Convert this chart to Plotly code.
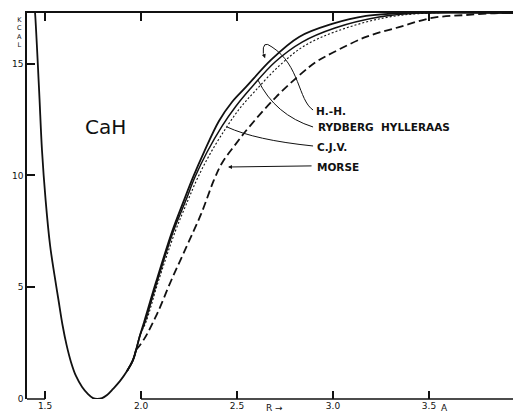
import plotly.graph_objects as go

# ---- data (R in Angstrom, energy in kcal) ----
well_x = [1.444, 1.448, 1.469, 1.484, 1.503, 1.526, 1.549, 1.570, 1.591, 1.612, 1.635, 1.661, 1.693, 1.724, 1.750, 1.771,
          1.797, 1.823, 1.854, 1.891, 1.927, 1.958, 1.974]
well_y = [17.60, 17.27, 13.83, 11.14, 8.90, 6.89, 5.55, 4.43, 3.31, 2.42, 1.66, 1.03, 0.54, 0.22, 0.04, 0.00,
          0.04, 0.18, 0.45, 0.81, 1.25, 1.74, 2.19]

hh_x = [1.927, 1.958, 1.974, 1.995, 2.016, 2.078, 2.161, 2.224, 2.271, 2.328, 2.406, 2.474, 2.547, 2.677, 2.823, 2.995, 3.172, 3.396, 3.94]
hh_y = [1.25, 1.74, 2.19, 2.86, 3.45, 5.23, 7.47, 8.90, 9.93, 11.05, 12.44, 13.29, 13.96, 15.17, 16.20, 16.78, 17.14, 17.27, 17.27]

rh_x = [1.927, 1.958, 1.974, 1.995, 2.021, 2.083, 2.167, 2.234, 2.281, 2.344, 2.422, 2.495, 2.568, 2.698, 2.839, 3.010, 3.240, 3.448, 3.94]
rh_y = [1.25, 1.74, 2.19, 2.86, 3.45, 5.23, 7.47, 8.90, 9.93, 11.05, 12.21, 13.11, 13.87, 15.08, 15.97, 16.60, 17.09, 17.27, 17.27]

cjv_x = [1.927, 1.958, 1.974, 1.995, 2.026, 2.089, 2.177, 2.245, 2.297, 2.365, 2.443, 2.516, 2.594, 2.719, 2.849, 3.021, 3.266, 3.500, 3.94]
cjv_y = [1.25, 1.74, 2.19, 2.86, 3.45, 5.23, 7.47, 8.90, 9.93, 11.05, 12.13, 13.02, 13.78, 14.90, 15.79, 16.46, 17.05, 17.27, 17.27]

morse_x = [1.974, 2.016, 2.083, 2.156, 2.234, 2.313, 2.380, 2.422, 2.490, 2.563, 2.703, 2.839, 2.911, 2.995, 3.172, 3.344, 3.516, 3.693, 3.865, 3.94]
morse_y = [2.19, 2.68, 3.80, 5.28, 6.76, 8.28, 9.80, 10.56, 11.37, 12.17, 13.51, 14.59, 15.08, 15.48, 16.20, 16.64, 17.05, 17.18, 17.27, 17.27]

x_ticks = [1.5, 2.0, 2.5, 3.0, 3.5]
x_tick_text = ["1.5", "2.0", "2.5", "3.0", "3.5"]
y_ticks = [0, 5, 10, 15]
y_tick_text = ["0", "5", "10", "15"]

series_labels = ["H.-H.", "RYDBERG  HYLLERAAS", "C.J.V.", "MORSE"]
label_x = [2.901, 2.911, 2.906, 2.906]
label_y = [12.89, 12.17, 11.28, 10.38]

X_RANGE = [1.406, 3.9375]
Y_RANGE = [0, 17.27]

fig = go.Figure()
blk = "#111111"
sm = 1.0
fig.add_trace(go.Scatter(x=well_x, y=well_y, mode="lines", line=dict(color=blk, width=1.8, shape="spline", smoothing=sm)))
fig.add_trace(go.Scatter(x=hh_x, y=hh_y, mode="lines", line=dict(color=blk, width=1.8, shape="spline", smoothing=sm)))
fig.add_trace(go.Scatter(x=rh_x, y=rh_y, mode="lines", line=dict(color=blk, width=1.5, shape="spline", smoothing=sm)))
fig.add_trace(go.Scatter(x=cjv_x, y=cjv_y, mode="lines", line=dict(color=blk, width=1.1, dash="2px,2px", shape="spline", smoothing=sm)))
fig.add_trace(go.Scatter(x=morse_x, y=morse_y, mode="lines", line=dict(color=blk, width=1.8, dash="8px,4px", shape="spline", smoothing=sm)))
# invisible trace on the top axis so it renders ticks
fig.add_trace(go.Scatter(x=[X_RANGE[0]], y=[0], xaxis="x2", mode="markers", marker=dict(opacity=0), hoverinfo="skip"))

shapes = [
    # bottom axis (broken under the well)
    dict(type="line", xref="x", yref="paper", x0=X_RANGE[0], x1=1.5, y0=0, y1=0, line=dict(color=blk, width=1.5)),
    dict(type="line", xref="x", yref="paper", x0=2.0, x1=X_RANGE[1], y0=0, y1=0, line=dict(color=blk, width=1.5)),
    # leader lines
    dict(type="path", xref="x", yref="y", path="M 2.896,12.93 C 2.818,13.38 2.828,14.94 2.682,15.75 Q 2.630,16.10 2.637,15.45",
         line=dict(color=blk, width=1)),
    dict(type="path", xref="x", yref="y", path="M 2.609,14.27 Q 2.698,12.71 2.896,12.17", line=dict(color=blk, width=1)),
    dict(type="path", xref="x", yref="y", path="M 2.448,12.17 Q 2.594,11.59 2.896,11.32", line=dict(color=blk, width=1)),
]

lab_font = dict(family="DejaVu Sans", size=10.5, color=blk, weight="bold")
annotations = []
for t, lx, ly in zip(series_labels, label_x, label_y):
    annotations.append(dict(x=lx, y=ly, xref="x", yref="y", text=t, showarrow=False, xanchor="left", yanchor="middle",
                            font=lab_font))
# MORSE leader with arrowhead
annotations.append(dict(x=2.453, y=10.38, xref="x", yref="y", ax=2.896, ay=10.43, axref="x", ayref="y", text="",
                        showarrow=True, arrowhead=2, arrowsize=0.8, arrowwidth=1, arrowcolor=blk, standoff=0))
# H.-H. hook arrowhead
annotations.append(dict(x=2.646, y=15.25, xref="x", yref="y", ax=2.636, ay=15.5, axref="x", ayref="y", text="",
                        showarrow=True, arrowhead=2, arrowsize=0.8, arrowwidth=1, arrowcolor=blk, standoff=0))
# CaH title
annotations.append(dict(x=1.8125, y=12.17, xref="x", yref="y", text="CaH", showarrow=False,
                        font=dict(family="DejaVu Sans", size=20, color=blk)))
# K C A L (stacked unit label)
annotations.append(dict(x=-0.022, y=(399 - 15) / 386, xref="paper", yref="paper", text="K<br>C<br>A<br>L",
                        showarrow=False, yanchor="top", borderpad=0,
                        font=dict(family="DejaVu Sans", size=6.5, color=blk)))
# R -> and A
annotations.append(dict(x=2.695, y=-0.006, xref="x", yref="paper", text="R →", showarrow=False, yanchor="top",
                        font=dict(family="DejaVu Sans", size=9, color=blk)))
annotations.append(dict(x=3.583, y=-0.006, xref="x", yref="paper", text="A", showarrow=False, yanchor="top",
                        font=dict(family="DejaVu Sans", size=9, color=blk)))

tick_font = dict(family="DejaVu Sans", size=9, color=blk)
fig.update_layout(
    width=513, height=413,
    margin=dict(l=27, r=0, t=13, b=14),
    paper_bgcolor="white", plot_bgcolor="white",
    showlegend=False,
    shapes=shapes,
    annotations=annotations,
    xaxis=dict(range=X_RANGE, tickvals=x_ticks, ticktext=x_tick_text, ticks="inside", ticklen=8, tickwidth=1.5,
               tickcolor=blk, showline=False, showgrid=False, zeroline=False, tickfont=tick_font),
    xaxis2=dict(range=X_RANGE, overlaying="x", side="top", tickvals=x_ticks, ticks="inside", ticklen=8, tickwidth=1.5,
                tickcolor=blk, showline=True, linecolor=blk, linewidth=1.5, showticklabels=False,
                showgrid=False, zeroline=False),
    yaxis=dict(range=Y_RANGE, tickvals=y_ticks, ticktext=y_tick_text, ticks="inside", ticklen=8, tickwidth=1.5,
               tickcolor=blk, showline=True, linecolor=blk, linewidth=1.5, showgrid=False, zeroline=False,
               tickfont=tick_font),
)

fig.write_html("out.html")
